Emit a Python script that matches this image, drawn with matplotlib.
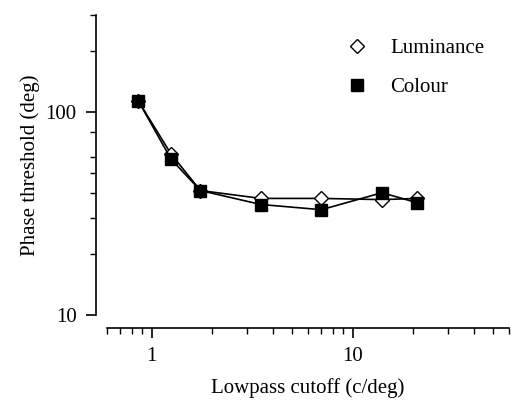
import matplotlib
matplotlib.use("Agg")
import matplotlib.pyplot as plt
from matplotlib.ticker import FixedLocator, NullFormatter

# lowpass cutoff (c/deg)
cutoff = [0.86, 1.25, 1.75, 3.5, 7.0, 14.0, 21.0]
# phase thresholds (deg)
luminance = [113, 62, 41, 37.5, 37.5, 37, 37.5]
colour = [113, 58.5, 41, 35, 33, 40, 35.7]

plt.rcParams["font.family"] = ["Liberation Serif", "DejaVu Serif"]

fig = plt.figure(figsize=(5.11, 4.01), dpi=100)
ax = fig.add_axes([107 / 511, 1 - 315 / 401, (509 - 107) / 511, (315 - 15) / 401])

ax.plot(cutoff, luminance, color="black", lw=1.2, marker="D", ms=7.5,
        mfc="white", mec="black", mew=1.0, label="Luminance", zorder=3)
ax.plot(cutoff, colour, color="black", lw=1.2, marker="s", ms=8,
        mfc="black", mec="black", label="Colour", zorder=4)

ax.set_xscale("log")
ax.set_yscale("log")
ax.set_xlim(0.6, 60)
ax.set_ylim(10, 300)

ax.spines["top"].set_visible(False)
ax.spines["right"].set_visible(False)
ax.spines["left"].set_position(("outward", 8))
ax.spines["bottom"].set_position(("outward", 9))
for s in ("left", "bottom"):
    ax.spines[s].set_linewidth(1.2)

ax.xaxis.set_major_locator(FixedLocator([1, 10]))
ax.set_xticklabels(["1", "10"])
ax.xaxis.set_minor_locator(FixedLocator([0.6, 0.7, 0.8, 0.9, 2, 3, 4, 5, 6, 7, 8, 9,
                                         20, 30, 40, 50, 60]))
ax.xaxis.set_minor_formatter(NullFormatter())
ax.yaxis.set_major_locator(FixedLocator([10, 100]))
ax.set_yticklabels(["10", "100"])
ax.yaxis.set_minor_locator(FixedLocator([20, 30, 40, 50, 60, 80, 200, 300]))
ax.yaxis.set_minor_formatter(NullFormatter())

ax.tick_params(which="major", direction="out", length=7, width=1.2, labelsize=15, pad=7)
ax.tick_params(which="minor", direction="out", length=4, width=1.0)

ax.set_xlabel("Lowpass cutoff (c/deg)", fontsize=15, labelpad=9)
ax.set_ylabel("Phase threshold (deg)", fontsize=15, labelpad=4)

ax.legend(loc="upper right", bbox_to_anchor=(0.985, 0.985), frameon=False,
          fontsize=15, handlelength=0, handletextpad=1.6, labelspacing=0.95,
          markerscale=1.0)
leg = ax.get_legend()
for line in leg.get_lines():
    line.set_linestyle("none")

fig.savefig("out.png", dpi=100)
